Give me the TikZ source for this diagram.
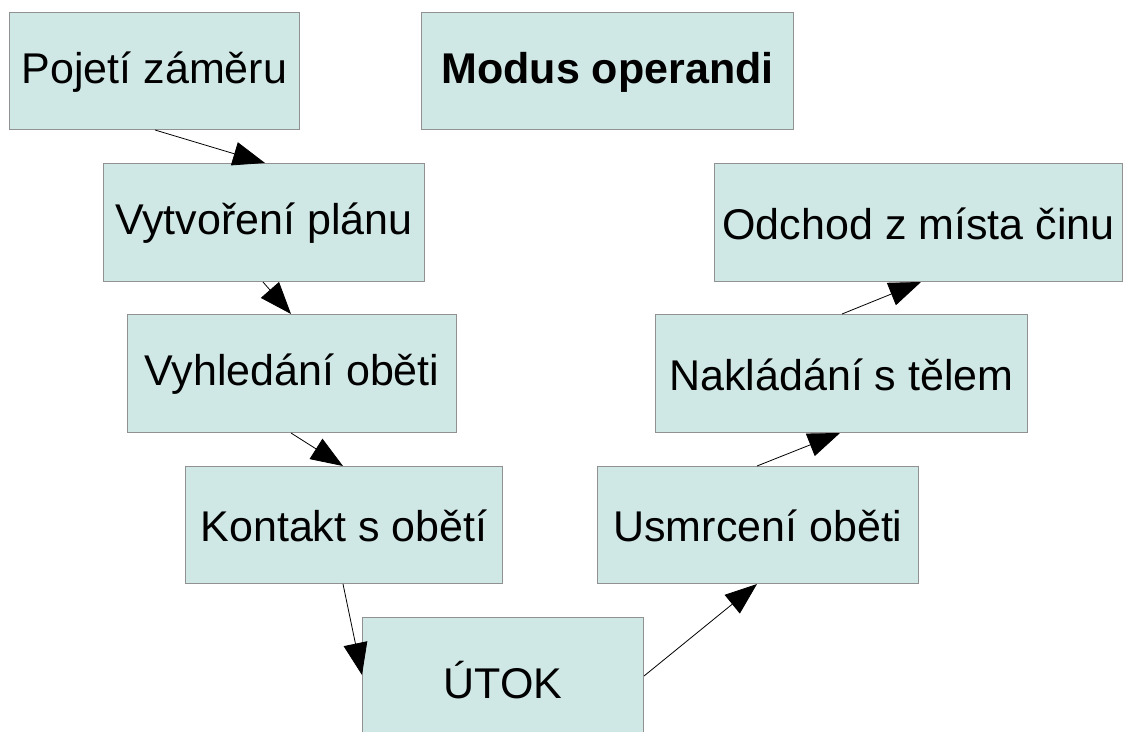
\documentclass[tikz,border=0pt]{standalone}
\usepackage{fontspec}
\setmainfont{Liberation Sans}
\usetikzlibrary{arrows.meta}
\definecolor{boxfill}{RGB}{207,231,229}
\definecolor{boxline}{RGB}{145,145,145}
\tikzset{
  box/.style={draw=boxline, fill=boxfill, line width=1pt, inner sep=0pt, anchor=north west},
  boxtext/.style={font=\fontsize{43}{48}\selectfont, inner sep=0pt},
  arr/.style={line width=0.8pt, -{Triangle[length=32pt, width=24pt]}}
}
\newcommand{\mybox}[6]{% name, x1, y1, x2, y2, text
  \node[box, minimum width={#4pt-#2pt}, minimum height={#5pt-#3pt}] (#1) at (#2pt,-#3pt) {};
  \node[boxtext] (#1-label) at ([yshift=-1pt]#1.center) {#6};
}
\begin{document}
\begin{tikzpicture}[x=1pt,y=1pt]
\useasboundingbox (0,0) rectangle (1123,-731);
\fill[white] (0,0) rectangle (1123,-731);
\mybox{pojeti}{9}{12}{299}{129}{Pojetí záměru}
\mybox{modus}{421}{12}{793}{129}{\bfseries Modus operandi}
\mybox{vytvoreni}{103}{163}{424}{281}{Vytvoření plánu}
\mybox{odchod}{714}{163}{1122}{281}{Odchod z místa činu}
\mybox{vyhledani}{127}{314}{456}{432}{Vyhledání oběti}
\mybox{nakladani}{655}{314}{1027}{432}{Nakládání s tělem}
\mybox{kontakt}{185}{466}{502}{583}{Kontakt s obětí}
\mybox{usmrceni}{597}{466}{918}{583}{Usmrcení oběti}
\mybox{utok}{362}{617}{643}{740}{ÚTOK}
\draw[arr] ([xshift=146pt]pojeti.south west) -- ([xshift=162pt]vytvoreni.north west);
\draw[arr] ([xshift=160pt]vytvoreni.south west) -- ([xshift=164pt]vyhledani.north west);
\draw[arr] ([xshift=164pt]vyhledani.south west) -- ([xshift=158pt]kontakt.north west);
\draw[arr] ([xshift=158pt]kontakt.south west) -- ([yshift=-58pt]utok.north west);
\draw[arr] ([yshift=-59pt]utok.north east) -- ([xshift=160pt]usmrceni.south west);
\draw[arr] ([xshift=160pt]usmrceni.north west) -- ([xshift=185pt]nakladani.south west);
\draw[arr] ([xshift=187pt]nakladani.north west) -- ([xshift=207pt]odchod.south west);
\end{tikzpicture}
\end{document}
